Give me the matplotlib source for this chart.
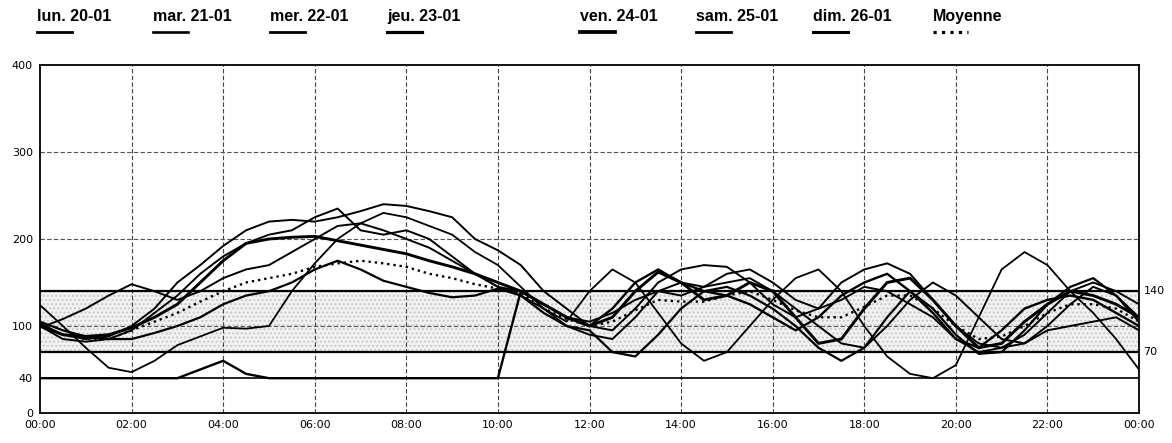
import numpy as np
import matplotlib.pyplot as plt
from matplotlib.lines import Line2D

# hours of the day, every 30 minutes
hours = np.arange(0, 24.5, 0.5)

labels = ["lun. 20-01", "mar. 21-01", "mer. 22-01", "jeu. 23-01",
          "ven. 24-01", "sam. 25-01", "dim. 26-01", "Moyenne"]

lun = [103, 90, 85, 88, 100, 120, 150, 170, 192, 210, 220, 222, 220, 225, 232, 240, 238,
       232, 225, 200, 187, 170, 140, 120, 100, 95, 120, 150, 165, 170, 168, 150, 125, 110,
       120, 150, 165, 172, 160, 130, 100, 80, 75, 80, 95, 100, 105, 110, 95]
mar = [124, 100, 75, 52, 47, 60, 78, 88, 98, 97, 100, 140, 172, 200, 218, 230, 225,
       215, 205, 185, 170, 145, 120, 105, 140, 165, 150, 115, 80, 60, 70, 100, 130, 155,
       165, 140, 100, 65, 45, 40, 55, 110, 165, 185, 170, 140, 115, 85, 50]
mer = [100, 85, 82, 85, 95, 115, 135, 160, 180, 195, 205, 210, 225, 235, 210, 205, 210,
       200, 180, 160, 145, 135, 120, 100, 90, 85, 110, 140, 150, 145, 150, 155, 140, 120,
       100, 80, 75, 100, 130, 150, 135, 110, 85, 80, 100, 125, 145, 135, 110]
jeu = [40, 40, 40, 40, 40, 40, 40, 50, 60, 45, 40, 40, 40, 40, 40, 40, 40,
       40, 40, 40, 40, 140, 125, 110, 100, 120, 150, 165, 150, 140, 135, 125, 110, 95,
       110, 135, 150, 160, 140, 115, 85, 75, 95, 120, 130, 135, 130, 115, 100]
ven = [100, 90, 88, 90, 98, 110, 125, 150, 175, 195, 200, 202, 203, 198, 193, 188, 183,
       175, 168, 160, 150, 140, 125, 110, 100, 110, 140, 162, 150, 130, 135, 150, 140, 110,
       80, 85, 120, 150, 155, 130, 100, 75, 80, 105, 125, 140, 135, 125, 110]
sam = [98, 108, 120, 135, 148, 140, 130, 140, 155, 165, 170, 185, 200, 215, 218, 210, 200,
       190, 175, 160, 145, 140, 125, 110, 105, 115, 130, 140, 135, 145, 160, 165, 150, 130,
       120, 130, 145, 140, 125, 110, 85, 70, 75, 90, 115, 140, 150, 140, 125]
dim = [105, 95, 88, 85, 85, 92, 100, 110, 125, 135, 140, 150, 165, 175, 165, 152, 145,
       138, 133, 135, 143, 135, 115, 100, 95, 70, 65, 90, 120, 140, 145, 135, 120, 100,
       75, 60, 75, 110, 140, 120, 90, 68, 70, 95, 125, 145, 155, 135, 105]
moyenne = [100, 90, 85, 85, 95, 105, 115, 128, 140, 150, 155, 160, 168, 172, 175, 172, 168,
           160, 155, 148, 143, 138, 120, 108, 100, 105, 118, 130, 128, 128, 135, 140, 130, 118,
           110, 110, 122, 135, 135, 120, 100, 85, 88, 100, 115, 125, 125, 120, 105]

series = [lun, mar, mer, jeu, ven, sam, dim, moyenne]
widths = [1.4, 1.3, 1.4, 1.7, 2.1, 1.4, 1.6, 1.7]
styles = ['-', '-', '-', '-', '-', '-', '-', ':']

low_lim, high_lim = 70, 140

fig = plt.figure(figsize=(11.72, 4.43), dpi=100)
ax = fig.add_axes([40 / 1172, 1 - 413 / 443, 1099 / 1172, 348 / 443])

# tolerance band
ax.fill_between([0, 24], low_lim, high_lim, facecolor='#f2f2f2', hatch='....',
                edgecolor='#c8c8c8', linewidth=0, zorder=0)
ax.axhline(high_lim, color='black', lw=1.6, zorder=2)
ax.axhline(low_lim, color='black', lw=1.6, zorder=2)
ax.axhline(40, color='black', lw=1.2, zorder=2)

for h in range(2, 24, 2):
    ax.axvline(h, color='#444444', lw=0.8, ls=(0, (4, 2)), zorder=1)
for v in [100, 200, 300]:
    ax.axhline(v, color='#555555', lw=0.8, ls=(0, (4, 2)), zorder=1)

for s, w, st in zip(series, widths, styles):
    ax.plot(hours, s, color='black', lw=w, ls=st, zorder=3,
            solid_joinstyle='round', solid_capstyle='round')

ax.set_xlim(0, 24)
ax.set_ylim(0, 400)
ax.set_xticks(range(0, 25, 2))
ax.set_xticklabels(["%02d:00" % (h % 24) for h in range(0, 25, 2)])
ax.set_yticks([0, 40, 100, 200, 300, 400])
ax.tick_params(length=0, labelsize=8, pad=5)
for sp in ax.spines.values():
    sp.set_linewidth(1.3)

ax.text(24.1, high_lim, "140", fontsize=8, va='center', ha='left')
ax.text(24.1, low_lim, "70", fontsize=8, va='center', ha='left')

# legend across the top
legend_x = [37, 153, 270, 387, 580, 696, 813, 933]
for i, (lab, x) in enumerate(zip(labels, legend_x)):
    fig.text(x / 1172, 1 - 21 / 443, lab, fontsize=11.5, fontweight='bold',
             family='Liberation Sans', va='baseline', ha='left')
    fig.add_artist(Line2D([x / 1172, (x + 35) / 1172], [1 - 32 / 443] * 2,
                          color='black', lw=widths[i] + 0.6, ls=styles[i]))

fig.savefig("out.png", dpi=100)
